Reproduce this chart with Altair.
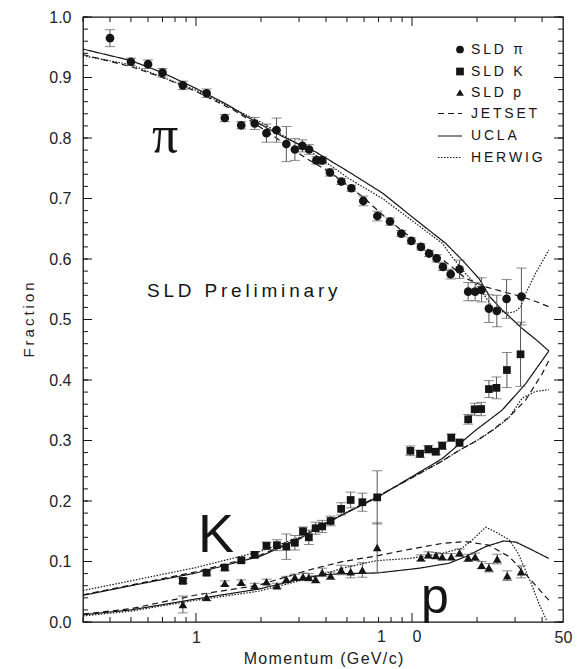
import altair as alt
import pandas as pd

# ---------------- data ----------------
pi_p = [0.40, 0.50, 0.60, 0.70, 0.87, 1.12, 1.36, 1.62, 1.87, 2.12, 2.36, 2.62, 2.87, 3.11, 3.34, 3.61, 3.84,
        4.17, 4.71, 5.24, 5.95, 6.91, 7.91, 8.92, 9.93, 11.0, 12.0, 13.0, 13.9, 15.1, 16.6, 18.2, 19.6, 21.0,
        22.7, 24.7, 27.4, 32.1]
pi_y = [0.965, 0.926, 0.922, 0.908, 0.887, 0.874, 0.833, 0.821, 0.824, 0.808, 0.813, 0.790, 0.781, 0.787, 0.781,
        0.763, 0.763, 0.743, 0.728, 0.717, 0.696, 0.671, 0.662, 0.642, 0.630, 0.620, 0.609, 0.601, 0.587, 0.575,
        0.583, 0.546, 0.546, 0.549, 0.518, 0.514, 0.534, 0.538]
pi_e = [0.014, 0.006, 0.007, 0.007, 0.007, 0.007, 0.006, 0.006, 0.010, 0.015, 0.020, 0.029, 0.018, 0.010, 0.008,
        0.006, 0.006, 0.006, 0.005, 0.005, 0.008, 0.008, 0.006, 0.005, 0.005, 0.005, 0.005, 0.006, 0.006, 0.008,
        0.015, 0.015, 0.015, 0.020, 0.023, 0.026, 0.032, 0.047]

k_p = [0.87, 1.12, 1.36, 1.62, 1.87, 2.12, 2.37, 2.62, 2.87, 3.13, 3.33, 3.58, 3.84, 4.2, 4.7, 5.2, 5.89, 6.9,
       9.83, 10.9, 11.9, 12.9, 13.8, 15.2, 16.6, 18.2, 19.5, 20.9, 22.7, 24.6, 27.5, 31.8]
k_y = [0.068, 0.0815, 0.090, 0.102, 0.111, 0.126, 0.127, 0.1245, 0.131, 0.150, 0.140, 0.155, 0.158, 0.167, 0.187,
       0.2017, 0.198, 0.206, 0.283, 0.278, 0.2855, 0.2815, 0.2914, 0.3047, 0.2964, 0.335, 0.3516, 0.352, 0.385,
       0.387, 0.4165, 0.4425]
k_e = [0.004, 0.004, 0.005, 0.004, 0.005, 0.006, 0.009, 0.021, 0.012, 0.007, 0.012, 0.010, 0.010, 0.008, 0.010,
       0.013, 0.015, 0.044, 0.008, 0.006, 0.006, 0.005, 0.006, 0.006, 0.006, 0.008, 0.010, 0.011, 0.014, 0.018,
       0.029, 0.053]

pr_p = [0.87, 1.12, 1.36, 1.62, 1.87, 2.12, 2.37, 2.62, 2.87, 3.13, 3.33, 3.58, 3.84, 4.2, 4.7, 5.2, 5.89, 6.9,
        11.0, 11.9, 12.9, 13.8, 15.2, 16.6, 18.2, 19.6, 21.0, 22.7, 24.8, 27.6, 32.0]
pr_y = [0.029, 0.041, 0.064, 0.0656, 0.060, 0.0667, 0.060, 0.0705, 0.074, 0.075, 0.074, 0.0705, 0.082, 0.0766,
        0.086, 0.083, 0.086, 0.123, 0.106, 0.111, 0.110, 0.108, 0.108, 0.1146, 0.106, 0.108, 0.094, 0.0898, 0.104,
        0.0766, 0.083]
pr_e = [0.014, 0.006, 0.004, 0.004, 0.004, 0.004, 0.004, 0.005, 0.005, 0.006, 0.006, 0.006, 0.007, 0.006, 0.008,
        0.010, 0.012, 0.041, 0.005, 0.005, 0.005, 0.005, 0.005, 0.006, 0.006, 0.006, 0.006, 0.007, 0.008, 0.008,
        0.010]

# model curves
jet_pi_p = [0.3, 0.5, 0.7, 1, 1.5, 2, 3.22, 4.27, 5.9, 7.8, 10.4, 13.3, 15.3, 17.7, 21.9, 27, 32, 38, 43]
jet_pi_y = [0.938, 0.918, 0.900, 0.877, 0.846, 0.817, 0.767, 0.741, 0.703, 0.664, 0.629, 0.604, 0.587, 0.568,
            0.554, 0.545, 0.538, 0.529, 0.521]
ucla_pi_p = [0.3, 0.5, 0.7, 1, 1.4, 1.76, 2.5, 3.58, 5.1, 7.3, 10.4, 14.3, 17.1, 20.4, 23, 26.1, 32.4, 38, 43]
ucla_pi_y = [0.947, 0.928, 0.908, 0.882, 0.855, 0.833, 0.803, 0.777, 0.744, 0.709, 0.665, 0.626, 0.598, 0.568,
             0.537, 0.516, 0.485, 0.465, 0.448]
her_pi_p = [0.3, 0.5, 1, 2, 3.58, 5.1, 7.3, 10.4, 13.8, 15.3, 17.7, 20.5, 23.5, 27.2, 30, 31.9, 33.6, 37.3, 43]
her_pi_y = [0.936, 0.921, 0.879, 0.826, 0.772, 0.733, 0.700, 0.659, 0.626, 0.604, 0.576, 0.552, 0.521, 0.510,
            0.513, 0.521, 0.543, 0.576, 0.615]

jet_k_p = [0.3, 0.5, 1, 2, 3, 4, 6.8, 9.7, 13.8, 16.4, 20, 23.5, 28, 33.6, 40, 43]
jet_k_y = [0.045, 0.061, 0.083, 0.111, 0.138, 0.163, 0.206, 0.236, 0.266, 0.283, 0.300, 0.317, 0.338, 0.367,
           0.410, 0.432]
ucla_k_p = [0.3, 0.5, 1, 2, 3, 4, 4.75, 6.8, 9.7, 13.8, 19.7, 26.1, 33.6, 43]
ucla_k_y = [0.044, 0.060, 0.081, 0.109, 0.137, 0.163, 0.177, 0.2045, 0.2375, 0.270, 0.317, 0.350, 0.394, 0.448]
her_k_p = [0.3, 0.5, 1, 2, 3, 4, 6.8, 9.7, 13.8, 16.4, 20, 23.5, 28, 32.4, 37.3, 43]
her_k_y = [0.052, 0.068, 0.090, 0.117, 0.140, 0.164, 0.206, 0.236, 0.266, 0.283, 0.300, 0.316, 0.337, 0.370,
           0.381, 0.384]

jet_pr_p = [0.3, 0.5, 1, 1.96, 3.33, 4.75, 6.8, 9.7, 13.8, 17.7, 22.7, 28.2, 35.6, 43]
jet_pr_y = [0.013, 0.022, 0.0446, 0.061, 0.086, 0.0997, 0.109, 0.120, 0.130, 0.133, 0.127, 0.108, 0.069, 0.036]
ucla_pr_p = [0.3, 0.5, 1, 1.96, 3.33, 3.9, 4.75, 6.9, 10.7, 14.8, 17.7, 21.9, 26.6, 30.3, 36, 43]
ucla_pr_y = [0.012, 0.020, 0.038, 0.0545, 0.074, 0.078, 0.080, 0.081, 0.0887, 0.097, 0.108, 0.1245, 0.134, 0.132,
             0.119, 0.105]
her_pr_p = [0.3, 0.5, 1, 1.96, 3.33, 4.75, 6.8, 9.7, 13.8, 17, 19, 21.9, 24.4, 28.2, 31, 35.6, 38.6, 42]
her_pr_y = [0.010, 0.018, 0.036, 0.051, 0.072, 0.0887, 0.1013, 0.105, 0.1135, 0.122, 0.1355, 0.1565, 0.149,
            0.1355, 0.1135, 0.064, 0.031, 0.003]

y_major = [round(0.1 * i, 1) for i in range(11)]
y_minor = [round(0.02 * i, 2) for i in range(51)]
x_major = [1, 10]
x_minor = [0.3, 0.4, 0.5, 0.6, 0.7, 0.8, 0.9, 2, 3, 4, 5, 6, 7, 8, 9, 20, 30, 40]
x_labels = [1, 50]
x_split_label = [10]

# ---------------- build tables ----------------
rows = []
for name, P, Y, E in [("pi", pi_p, pi_y, pi_e), ("K", k_p, k_y, k_e), ("p", pr_p, pr_y, pr_e)]:
    for a, b, c in zip(P, Y, E):
        rows.append({"species": name, "p": a, "y": b, "lo": b - c, "hi": b + c})
pts = pd.DataFrame(rows)

def curve(model, sets):
    r = []
    for sp, P, Y in sets:
        for a, b in zip(P, Y):
            r.append({"model": model, "species": sp, "p": a, "y": b})
    return pd.DataFrame(r)

jet = curve("JETSET", [("pi", jet_pi_p, jet_pi_y), ("K", jet_k_p, jet_k_y), ("p", jet_pr_p, jet_pr_y)])
ucla = curve("UCLA", [("pi", ucla_pi_p, ucla_pi_y), ("K", ucla_k_p, ucla_k_y), ("p", ucla_pr_p, ucla_pr_y)])
her = curve("HERWIG", [("pi", her_pi_p, her_pi_y), ("K", her_k_p, her_k_y), ("p", her_pr_p, her_pr_y)])

FONT = "Liberation Sans"
INK = "#151515"
W, H = 480, 605
TS = "\u2009"   # thin space (letter tracking)
HS = "\u200a"   # hair space
NB = "\u00a0"

xscale = alt.Scale(type="log", domain=[0.3, 50], nice=False)
yscale = alt.Scale(domain=[0, 1.0], nice=False)

xaxis = alt.Axis(values=x_labels, ticks=False, domain=False, grid=False, labelFlush=False, labelOverlap=False,
                 labelFontSize=16, labelFont=FONT, labelColor="#222", labelPadding=7,
                 titleFontSize=16, titleFont=FONT, titleFontWeight="normal", titleColor="#222", titlePadding=5)
yaxis = alt.Axis(values=y_major, ticks=False, domain=False, grid=False, labelFlush=False, labelOverlap=False,
                 format=".1f", labelFontSize=16, labelFont=FONT, labelColor="#222", labelPadding=12,
                 titleFontSize=15, titleFont=FONT, titleFontWeight="normal", titleColor="#222", titlePadding=12)

XTITLE = HS.join("Momentum (GeV/c)")
YTITLE = TS.join("Fraction")

def X(field="p"):
    return alt.X(f"{field}:Q", scale=xscale, axis=xaxis, title=XTITLE)

def Y(field="y"):
    return alt.Y(f"{field}:Q", scale=yscale, axis=yaxis, title=YTITLE)

layers = []

# ticks (inward) on four sides
def xt(vals, length):
    d = pd.DataFrame({"p": vals})
    b = alt.Chart(d).mark_rule(color=INK, strokeWidth=1).encode(x=X(), y=alt.value(H), y2=alt.value(H - length))
    t = alt.Chart(d).mark_rule(color=INK, strokeWidth=1).encode(x=X(), y=alt.value(0), y2=alt.value(length))
    return [b, t]

def yt(vals, length):
    d = pd.DataFrame({"y": vals})
    l = alt.Chart(d).mark_rule(color=INK, strokeWidth=1).encode(y=Y(), x=alt.value(0), x2=alt.value(length))
    r = alt.Chart(d).mark_rule(color=INK, strokeWidth=1).encode(y=Y(), x=alt.value(W), x2=alt.value(W - length))
    return [l, r]

layers += xt(x_minor, 5) + xt(x_major, 9) + yt(y_minor, 5) + yt(y_major, 9)

# the oddly spaced "1 0" tick label at 10
layers.append(alt.Chart(pd.DataFrame({"p": x_split_label})).mark_text(
    font=FONT, fontSize=16, align="left", baseline="top", color="#222", dx=-35).encode(
    x=X(), y=alt.value(H + 7), text=alt.value("1" + NB * 6 + "0")))

# model curves
for df, dash in [(jet, [6, 4]), (ucla, [1, 0]), (her, [1.5, 1.5])]:
    layers.append(alt.Chart(df).mark_line(color=INK, strokeWidth=1.2, strokeDash=dash).encode(
        x=X(), y=Y(), detail="species:N"))

# error bars
layers.append(alt.Chart(pts).mark_rule(color="#555", strokeWidth=1).encode(x=X(), y=Y("lo"), y2="hi:Q"))
for f in ["lo", "hi"]:
    layers.append(alt.Chart(pts).mark_tick(color="#555", orient="horizontal", size=10, thickness=1).encode(
        x=X(), y=Y(f)))

# points
for sp, shape, size in [("pi", "circle", 75), ("K", "square", 60), ("p", "triangle-up", 75)]:
    layers.append(alt.Chart(pts[pts.species == sp]).mark_point(shape=shape, filled=True, size=size, color=INK,
                                                               opacity=1).encode(x=X(), y=Y()))

one = alt.Data(values=[{}])

def txt(s, x, y, size, font=FONT, align="center", baseline="alphabetic"):
    return alt.Chart(one).mark_text(font=font, fontSize=size, align=align, baseline=baseline, color=INK).encode(
        x=alt.value(x), y=alt.value(y), text=alt.value(s))

def spaced(s):
    return (TS + NB + TS).join(TS.join(w) for w in s.split(" "))

layers.append(txt("π", 82, 135, 52, font="Liberation Serif"))
layers.append(txt("K", 133, 535, 54))
layers.append(txt("p", 352, 596, 50))
layers.append(txt(spaced("SLD Preliminary"), 64, 280, 19, align="left"))

# legend
leg_rows = [32.5, 54.5, 75.5, 96.5, 119, 140.5]
for (label, shape), yy in zip([("SLD π", "circle"), ("SLD K", "square"), ("SLD p", "triangle-up")], leg_rows[:3]):
    layers.append(alt.Chart(one).mark_point(shape=shape, filled=True, size=60, color=INK, opacity=1).encode(
        x=alt.value(377), y=alt.value(yy)))
    layers.append(txt(spaced(label), 388, yy, 14, align="left", baseline="middle"))
for (label, dash), yy in zip([("JETSET", [6, 4]), ("UCLA", [1, 0]), ("HERWIG", [1.5, 1.5])], leg_rows[3:]):
    layers.append(alt.Chart(one).mark_rule(color=INK, strokeWidth=1.2, strokeDash=dash).encode(
        x=alt.value(355), x2=alt.value(379), y=alt.value(yy)))
    layers.append(txt(spaced(label), 388, yy, 14, align="left", baseline="middle"))

chart = alt.layer(*layers).properties(
    width=W, height=H,
    autosize=alt.AutoSizeParams(type="none"),
    padding={"left": 83, "top": 17, "right": 14, "bottom": 47},
    background="white",
).configure_view(stroke=INK, strokeWidth=1.3)

chart.save("out.html", embed_options={"renderer": "svg", "actions": False})
